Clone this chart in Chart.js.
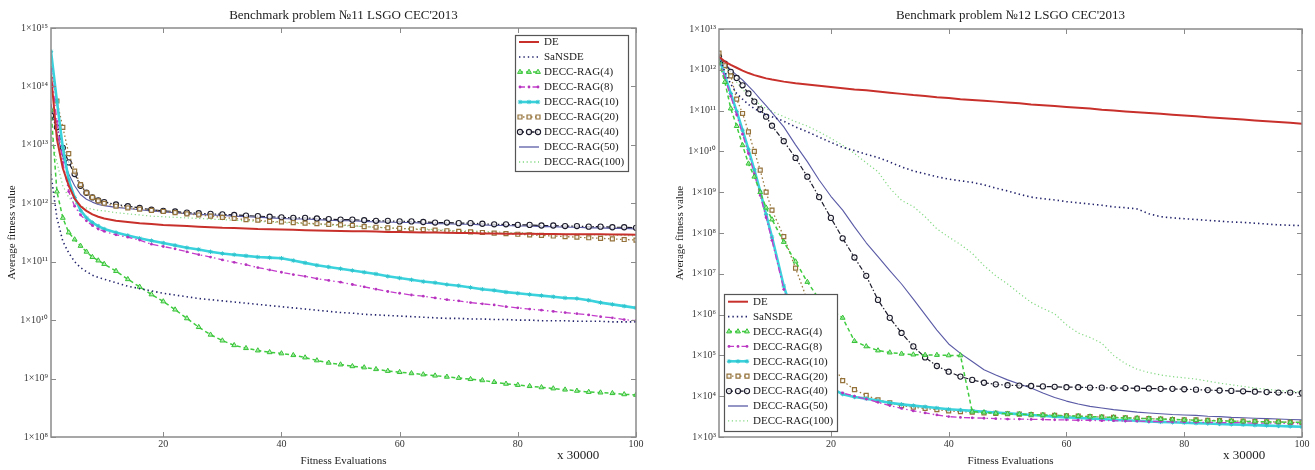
<!DOCTYPE html>
<html>
<head>
<meta charset="utf-8">
<script src="https://cdn.jsdelivr.net/npm/chart.js@4.4.1/dist/chart.umd.min.js"></script>
<style>
  html, body { margin: 0; padding: 0; background: #fff; }
  #wrap { position: relative; width: 1315px; height: 470px; overflow: hidden; }
  .panel { position: absolute; top: 0; height: 470px; }
  #p11 { left: 0; width: 660px; }
  #p12 { left: 660px; width: 655px; }
  canvas { display: block; }
</style>
</head>
<body>
<div id="wrap">
  <div class="panel" id="p11"><canvas id="c11" width="660" height="470"></canvas></div>
  <div class="panel" id="p12"><canvas id="c12" width="655" height="470"></canvas></div>
</div>
<script>
// Checkpoints, in units of 30000 fitness evaluations
const EVALS = [1,2,3,4,5,6,7,8,9,10,
  12,14,16,18,20,22,24,26,28,30,32,34,36,38,40,42,44,46,48,50,
  52,54,56,58,60,62,64,66,68,70,72,74,76,78,80,82,84,86,88,90,92,94,96,98,100];
const X_TICKS = [20, 40, 60, 80, 100];
const Y11_EXP = [8, 9, 10, 11, 12, 13, 14, 15];
const Y12_EXP = [3, 4, 5, 6, 7, 8, 9, 10, 11, 12, 13];
const ALGORITHMS = ['DE', 'SaNSDE', 'DECC-RAG(4)', 'DECC-RAG(8)', 'DECC-RAG(10)',
  'DECC-RAG(20)', 'DECC-RAG(40)', 'DECC-RAG(50)', 'DECC-RAG(100)'];

// Problem 11: log10 of average fitness value at each checkpoint
const P11_DE = [14.20,13.10,12.60,12.30,12.08,11.95,11.87,11.81,11.77,11.74,
  11.70,11.68,11.66,11.645,11.63,11.62,11.61,11.60,11.59,11.58,11.575,11.57,11.56,11.555,11.55,11.545,11.54,11.535,11.53,11.525,
  11.52,11.52,11.515,11.51,11.51,11.505,11.50,11.50,11.495,11.49,11.49,11.485,11.485,11.48,11.48,11.48,11.475,11.475,11.47,11.47,11.47,11.47,11.465,11.465,11.46];
const P11_SANSDE = [12.50,11.75,11.35,11.15,11.00,10.90,10.83,10.77,10.73,10.70,
  10.64,10.58,10.54,10.50,10.46,10.43,10.40,10.37,10.35,10.33,10.31,10.29,10.27,10.25,10.23,10.21,10.19,10.17,10.15,10.13,
  10.12,10.10,10.09,10.08,10.07,10.06,10.05,10.04,10.03,10.03,10.02,10.02,10.01,10.01,10.00,10.00,9.99,9.99,9.99,9.98,9.98,9.98,9.97,9.97,9.97];
const P11_RAG4 = [13.60,12.20,11.75,11.50,11.38,11.27,11.17,11.08,11.02,10.96,
  10.84,10.70,10.57,10.44,10.32,10.18,10.03,9.88,9.75,9.65,9.57,9.52,9.48,9.45,9.43,9.40,9.36,9.31,9.27,9.24,
  9.21,9.19,9.16,9.13,9.11,9.09,9.07,9.05,9.03,9.01,8.99,8.97,8.94,8.91,8.89,8.87,8.85,8.83,8.81,8.79,8.77,8.76,8.75,8.73,8.72];
const P11_RAG8 = [14.30,13.40,12.70,12.20,11.95,11.80,11.70,11.62,11.56,11.52,
  11.46,11.42,11.37,11.30,11.26,11.22,11.17,11.12,11.08,11.03,10.99,10.95,10.90,10.86,10.82,10.78,10.75,10.71,10.68,10.65,
  10.61,10.57,10.53,10.49,10.46,10.43,10.41,10.38,10.35,10.33,10.30,10.28,10.26,10.23,10.21,10.19,10.17,10.15,10.13,10.11,10.09,10.06,10.04,10.01,9.99];
const P11_RAG10 = [14.60,13.75,12.95,12.40,12.10,11.88,11.75,11.67,11.61,11.56,
  11.50,11.45,11.40,11.36,11.32,11.28,11.24,11.21,11.17,11.14,11.12,11.10,11.08,11.07,11.06,11.02,10.98,10.94,10.91,10.88,
  10.85,10.82,10.79,10.75,10.72,10.69,10.66,10.64,10.61,10.59,10.56,10.53,10.51,10.48,10.46,10.44,10.42,10.40,10.38,10.37,10.34,10.30,10.27,10.24,10.21];
const P11_RAG20 = [14.30,13.75,13.30,12.85,12.55,12.32,12.18,12.10,12.04,12.00,
  11.95,11.92,11.90,11.88,11.86,11.84,11.82,11.80,11.78,11.76,11.74,11.72,11.71,11.69,11.68,11.67,11.66,11.65,11.64,11.63,
  11.62,11.60,11.59,11.58,11.57,11.56,11.55,11.54,11.53,11.52,11.51,11.50,11.49,11.48,11.47,11.46,11.45,11.44,11.43,11.42,11.41,11.40,11.39,11.38,11.37];
const P11_RAG40 = [13.50,13.30,12.95,12.70,12.50,12.30,12.18,12.10,12.05,12.02,
  11.98,11.95,11.92,11.89,11.87,11.86,11.84,11.83,11.82,11.81,11.80,11.79,11.78,11.77,11.76,11.75,11.75,11.74,11.73,11.72,
  11.72,11.71,11.70,11.70,11.69,11.69,11.68,11.67,11.67,11.66,11.66,11.65,11.64,11.64,11.63,11.63,11.62,11.62,11.61,11.61,11.60,11.60,11.59,11.59,11.58];
const P11_RAG50 = [13.70,13.20,12.80,12.50,12.30,12.15,12.07,12.02,11.98,11.96,
  11.93,11.91,11.89,11.87,11.85,11.84,11.82,11.81,11.80,11.79,11.78,11.77,11.76,11.75,11.74,11.73,11.73,11.72,11.71,11.70,
  11.70,11.69,11.68,11.68,11.67,11.67,11.66,11.65,11.65,11.64,11.64,11.63,11.62,11.62,11.61,11.61,11.60,11.60,11.59,11.59,11.58,11.58,11.57,11.57,11.56];
const P11_RAG100 = [13.20,12.70,12.30,12.10,12.00,11.95,11.92,11.90,11.88,11.87,
  11.84,11.82,11.80,11.78,11.77,11.76,11.75,11.74,11.73,11.72,11.71,11.70,11.69,11.68,11.67,11.66,11.65,11.64,11.63,11.62,
  11.61,11.60,11.59,11.58,11.57,11.56,11.56,11.55,11.54,11.53,11.53,11.52,11.51,11.50,11.50,11.49,11.48,11.48,11.47,11.47,11.46,11.46,11.45,11.45,11.44];

// Problem 12: log10 of average fitness value at each checkpoint
const P12_DE = [12.32,12.20,12.12,12.05,11.98,11.92,11.87,11.83,11.79,11.76,
  11.71,11.67,11.64,11.61,11.58,11.55,11.52,11.50,11.47,11.44,11.41,11.38,11.36,11.33,11.31,11.28,11.26,11.24,11.22,11.20,
  11.18,11.15,11.13,11.11,11.09,11.07,11.05,11.02,11.00,10.98,10.96,10.94,10.92,10.90,10.88,10.86,10.84,10.82,10.80,10.78,10.76,10.74,10.72,10.70,10.68];
const P12_SANSDE = [12.32,11.95,11.65,11.42,11.28,11.15,11.05,10.97,10.90,10.85,
  10.74,10.60,10.48,10.35,10.22,10.10,10.02,9.93,9.85,9.74,9.62,9.52,9.45,9.38,9.32,9.28,9.24,9.18,9.10,9.03,
  8.95,8.88,8.84,8.81,8.77,8.74,8.71,8.68,8.64,8.62,8.59,8.47,8.40,8.37,8.35,8.33,8.31,8.29,8.27,8.26,8.24,8.22,8.20,8.19,8.18];
const P12_RAG4 = [12.20,11.70,11.05,10.62,10.15,9.70,9.38,9.00,8.62,8.33,
  7.78,7.30,6.80,6.38,6.12,5.92,5.35,5.22,5.12,5.07,5.04,5.02,5.01,5.01,5.00,5.00,3.62,3.60,3.58,3.57,
  3.56,3.55,3.54,3.53,3.52,3.51,3.50,3.49,3.48,3.47,3.46,3.45,3.44,3.43,3.42,3.41,3.40,3.40,3.39,3.38,3.38,3.37,3.37,3.36,3.36];
const P12_RAG8 = [12.25,11.80,11.35,10.90,10.42,9.95,9.45,8.92,8.38,7.82,
  6.62,5.72,5.05,4.55,4.20,4.08,4.00,3.93,3.85,3.77,3.70,3.64,3.59,3.54,3.50,3.48,3.47,3.46,3.45,3.44,
  3.44,3.43,3.43,3.42,3.42,3.41,3.41,3.40,3.40,3.39,3.39,3.38,3.38,3.37,3.37,3.36,3.36,3.35,3.35,3.35,3.34,3.34,3.34,3.33,3.33];
const P12_RAG10 = [12.29,11.85,11.42,10.98,10.52,10.05,9.55,9.02,8.45,7.90,
  6.70,5.80,5.10,4.60,4.20,4.05,3.98,3.94,3.89,3.84,3.80,3.77,3.74,3.71,3.68,3.66,3.64,3.62,3.60,3.58,
  3.56,3.54,3.52,3.50,3.48,3.47,3.45,3.44,3.42,3.41,3.40,3.38,3.37,3.36,3.35,3.34,3.33,3.32,3.31,3.30,3.29,3.28,3.27,3.26,3.25];
const P12_RAG20 = [12.41,12.10,11.85,11.28,10.93,10.48,10.00,9.54,9.00,8.56,
  7.91,7.14,6.35,5.55,4.85,4.38,4.16,4.02,3.91,3.84,3.77,3.73,3.70,3.67,3.64,3.62,3.61,3.59,3.58,3.57,
  3.56,3.55,3.54,3.53,3.52,3.51,3.50,3.49,3.48,3.47,3.46,3.45,3.44,3.43,3.42,3.42,3.41,3.40,3.39,3.39,3.38,3.37,3.37,3.36,3.35];
const P12_RAG40 = [12.32,12.15,11.95,11.80,11.62,11.42,11.22,11.03,10.85,10.63,
  10.25,9.84,9.38,8.88,8.37,7.87,7.40,6.95,6.36,5.92,5.55,5.22,4.95,4.74,4.60,4.48,4.40,4.33,4.29,4.27,
  4.26,4.25,4.24,4.23,4.22,4.22,4.21,4.21,4.20,4.20,4.19,4.19,4.18,4.18,4.17,4.16,4.15,4.14,4.13,4.12,4.11,4.10,4.09,4.09,4.08];
const P12_RAG50 = [12.32,12.15,12.00,11.87,11.75,11.60,11.45,11.28,11.12,10.95,
  10.60,10.16,9.75,9.30,8.90,8.56,8.15,7.76,7.42,7.08,6.75,6.38,6.00,5.62,5.28,5.05,4.85,4.65,4.52,4.40,
  4.30,4.20,4.08,3.97,3.88,3.81,3.75,3.71,3.67,3.64,3.61,3.59,3.57,3.55,3.54,3.53,3.51,3.50,3.48,3.47,3.46,3.45,3.44,3.43,3.42];
const P12_RAG100 = [12.32,12.10,11.90,11.70,11.52,11.38,11.25,11.14,11.05,10.98,
  10.85,10.73,10.62,10.48,10.32,10.15,9.95,9.72,9.50,9.10,8.80,8.65,8.40,8.10,7.90,7.72,7.50,7.20,6.95,6.75,
  6.52,6.30,6.15,6.02,5.75,5.55,5.44,5.30,5.00,4.80,4.66,4.58,4.52,4.48,4.45,4.42,4.37,4.32,4.28,4.24,4.20,4.17,4.14,4.12,4.10];

const P11 = [P11_DE, P11_SANSDE, P11_RAG4, P11_RAG8, P11_RAG10, P11_RAG20, P11_RAG40, P11_RAG50, P11_RAG100];
const P12 = [P12_DE, P12_SANSDE, P12_RAG4, P12_RAG8, P12_RAG10, P12_RAG20, P12_RAG40, P12_RAG50, P12_RAG100];

// Line and marker appearance of each algorithm
const STYLES = [
  { borderColor: '#c8302c', borderWidth: 2, borderDash: [], pointRadius: 0 },
  { borderColor: '#22226c', borderWidth: 1.6, borderDash: [1.4, 3], pointRadius: 0 },
  { borderColor: '#3fcc3f', borderWidth: 1.5, borderDash: [4, 3], pointStyle: 'triangle', pointRadius: 2.8,
    pointBackgroundColor: 'rgba(160,235,160,0.75)', pointBorderColor: '#36c236', pointBorderWidth: 1 },
  { borderColor: '#c43ccc', borderWidth: 1.3, borderDash: [6, 3, 1.5, 3], pointStyle: 'circle', pointRadius: 1.4,
    pointBackgroundColor: '#b535bd', pointBorderColor: '#b535bd', pointBorderWidth: 0 },
  { borderColor: '#3ad2dc', borderWidth: 2.6, borderDash: [], pointStyle: 'star', pointRadius: 2.2,
    pointBackgroundColor: '#3ad2dc', pointBorderColor: '#30c4ce', pointBorderWidth: 1 },
  { borderColor: '#9a7a40', borderWidth: 1.3, borderDash: [1.5, 2.5], pointStyle: 'rect', pointRadius: 2.8,
    pointBackgroundColor: 'rgba(255,255,255,0.8)', pointBorderColor: '#94723a', pointBorderWidth: 1.2 },
  { borderColor: '#1c1c2c', borderWidth: 1.2, borderDash: [5, 2, 1.5, 2], pointStyle: 'circle', pointRadius: 2.6,
    pointBackgroundColor: 'rgba(255,255,255,0.75)', pointBorderColor: '#1c1c2c', pointBorderWidth: 1.1 },
  { borderColor: '#5a5aa6', borderWidth: 1.1, borderDash: [], pointRadius: 0 },
  { borderColor: '#80d880', borderWidth: 1.2, borderDash: [1.2, 2.6], pointRadius: 0 }
];

const SUPERSCRIPT = { '0': '⁰', '1': '¹', '2': '²', '3': '³', '4': '⁴', '5': '⁵', '6': '⁶', '7': '⁷', '8': '⁸', '9': '⁹' };
const powerLabel = v => '1×10' + String(Math.round(Math.log10(v))).replace(/\d/g, d => SUPERSCRIPT[d]);

Chart.defaults.font.family = '"Liberation Serif", "Times New Roman", serif';
Chart.defaults.color = '#333';

const pointHelper = (Chart.helpers && Chart.helpers.drawPoint) ? Chart.helpers.drawPoint : null;

function drawMarker(ctx, ds, x, y) {
  ctx.save();
  ctx.setLineDash([]);
  ctx.fillStyle = ds.pointBackgroundColor;
  ctx.strokeStyle = ds.pointBorderColor;
  ctx.lineWidth = ds.pointBorderWidth;
  if (pointHelper) {
    pointHelper(ctx, { pointStyle: ds.pointStyle, radius: ds.pointRadius, rotation: 0, borderWidth: ds.pointBorderWidth }, x, y);
  } else {
    ctx.beginPath();
    ctx.arc(x, y, ds.pointRadius, 0, Math.PI * 2);
    ctx.fill();
    if (ds.pointBorderWidth > 0) ctx.stroke();
  }
  ctx.restore();
}

// Frame, inward tick marks, boxed legend and the evaluation multiplier
const panelDecor = {
  id: 'panelDecor',
  afterDatasetsDraw(chart, _args, opts) {
    const { ctx, chartArea: a } = chart;
    const xs = chart.scales.x, ys = chart.scales.y;
    ctx.save();
    ctx.setLineDash([]);
    ctx.strokeStyle = '#8a8a8a';
    ctx.lineWidth = 1;
    ctx.beginPath();
    xs.ticks.forEach(t => {
      const px = Math.round(xs.getPixelForValue(t.value)) + 0.5;
      ctx.moveTo(px, a.top); ctx.lineTo(px, a.top + 5);
      ctx.moveTo(px, a.bottom); ctx.lineTo(px, a.bottom - 5);
    });
    ys.ticks.forEach(t => {
      const py = Math.round(ys.getPixelForValue(t.value)) + 0.5;
      ctx.moveTo(a.left, py); ctx.lineTo(a.left + 5, py);
      ctx.moveTo(a.right, py); ctx.lineTo(a.right - 5, py);
    });
    ctx.stroke();
    ctx.lineWidth = 1.5;
    ctx.strokeRect(a.left, a.top, a.right - a.left, a.bottom - a.top);

    const lg = opts.legend;
    const bx = Math.round(lg.anchor === 'topRight' ? a.right - lg.dx - lg.w : a.left + lg.dx);
    const by = Math.round(lg.anchor === 'topRight' ? a.top + lg.dy : a.bottom - lg.dy - lg.h);
    ctx.fillStyle = '#fff';
    ctx.fillRect(bx, by, lg.w, lg.h);
    ctx.strokeStyle = '#555';
    ctx.lineWidth = 1.2;
    ctx.strokeRect(bx + 0.5, by + 0.5, lg.w, lg.h);
    ctx.font = '11px "Liberation Serif", "Times New Roman", serif';
    ctx.textBaseline = 'middle';
    ctx.textAlign = 'left';
    chart.data.datasets.forEach((ds, i) => {
      const y = by + lg.first + i * lg.step;
      const x0 = bx + 4, x1 = x0 + 20;
      ctx.save();
      ctx.strokeStyle = ds.borderColor;
      ctx.lineWidth = Math.max(ds.borderWidth, 1.3);
      ctx.setLineDash(ds.borderDash || []);
      ctx.beginPath();
      ctx.moveTo(x0, y); ctx.lineTo(x1, y);
      ctx.stroke();
      ctx.restore();
      if (ds.pointRadius > 0) {
        [x0 + 1, (x0 + x1) / 2, x1 - 1].forEach(px => drawMarker(ctx, ds, px, y));
      }
      ctx.fillStyle = '#1a1a1a';
      ctx.fillText(ds.label, x1 + 5, y + 0.5);
    });

    ctx.font = '13px "Liberation Serif", "Times New Roman", serif';
    ctx.fillStyle = '#222';
    ctx.textBaseline = 'middle';
    ctx.fillText('x 30000', a.right - 79, a.bottom + 19);
    ctx.restore();
  }
};

function buildChart(canvasId, titleText, series, yExp, cfg) {
  const datasets = series.map((vals, i) => Object.assign({
    label: ALGORITHMS[i],
    data: EVALS.map((x, k) => ({ x: x, y: Math.pow(10, vals[k]) })),
    fill: false,
    tension: 0,
    borderJoinStyle: 'round',
    pointHoverRadius: 0
  }, STYLES[i]));

  return new Chart(document.getElementById(canvasId), {
    type: 'line',
    data: { datasets },
    plugins: [panelDecor],
    options: {
      responsive: false,
      animation: false,
      events: [],
      layout: { padding: { left: 0, right: cfg.padRight, top: 0, bottom: 0 } },
      plugins: {
        legend: { display: false },
        tooltip: { enabled: false },
        title: {
          display: true,
          text: titleText,
          fullSize: false,
          color: '#222',
          font: { size: 13, weight: 'normal' },
          padding: { top: 7.7, bottom: cfg.titleBottom }
        },
        panelDecor: { legend: cfg.legend }
      },
      scales: {
        x: {
          type: 'linear',
          min: 1,
          max: 100,
          grid: { display: false, drawTicks: false },
          border: { display: false },
          afterBuildTicks: s => { s.ticks = X_TICKS.map(v => ({ value: v })); },
          afterFit: s => { s.height = 33; },
          ticks: { padding: 1, autoSkip: false, maxRotation: 0, font: { size: 10 }, color: '#333' },
          title: { display: true, text: 'Fitness Evaluations', color: '#222', font: { size: 11 },
                   padding: { top: 0, bottom: 2.4 } }
        },
        y: {
          type: 'logarithmic',
          min: Math.pow(10, yExp[0]),
          max: Math.pow(10, yExp[yExp.length - 1]),
          grid: { display: false, drawTicks: false },
          border: { display: false },
          afterBuildTicks: s => { s.ticks = yExp.map(e => ({ value: Math.pow(10, e) })); },
          afterFit: s => { s.width = cfg.yWidth; },
          ticks: { padding: 3, autoSkip: false, font: { size: 10 }, color: '#3a3a3a', callback: v => powerLabel(v) },
          title: { display: true, text: 'Average fitness value', color: '#222', font: { size: 11 },
                   padding: { top: cfg.yTitlePad, bottom: 0 } }
        }
      }
    }
  });
}

buildChart('c11', "Benchmark problem №11 LSGO CEC'2013", P11, Y11_EXP, {
  padRight: 24, yWidth: 51, yTitlePad: 5.4, titleBottom: 4.7,
  legend: { anchor: 'topRight', dx: 8, dy: 7, w: 113, h: 136, first: 7, step: 15 }
});
buildChart('c12', "Benchmark problem №12 LSGO CEC'2013", P12, Y12_EXP, {
  padRight: 13, yWidth: 59, yTitlePad: 13.4, titleBottom: 5.7,
  legend: { anchor: 'bottomLeft', dx: 5, dy: 6, w: 113, h: 137, first: 7.7, step: 14.9 }
});
</script>
</body>
</html>
